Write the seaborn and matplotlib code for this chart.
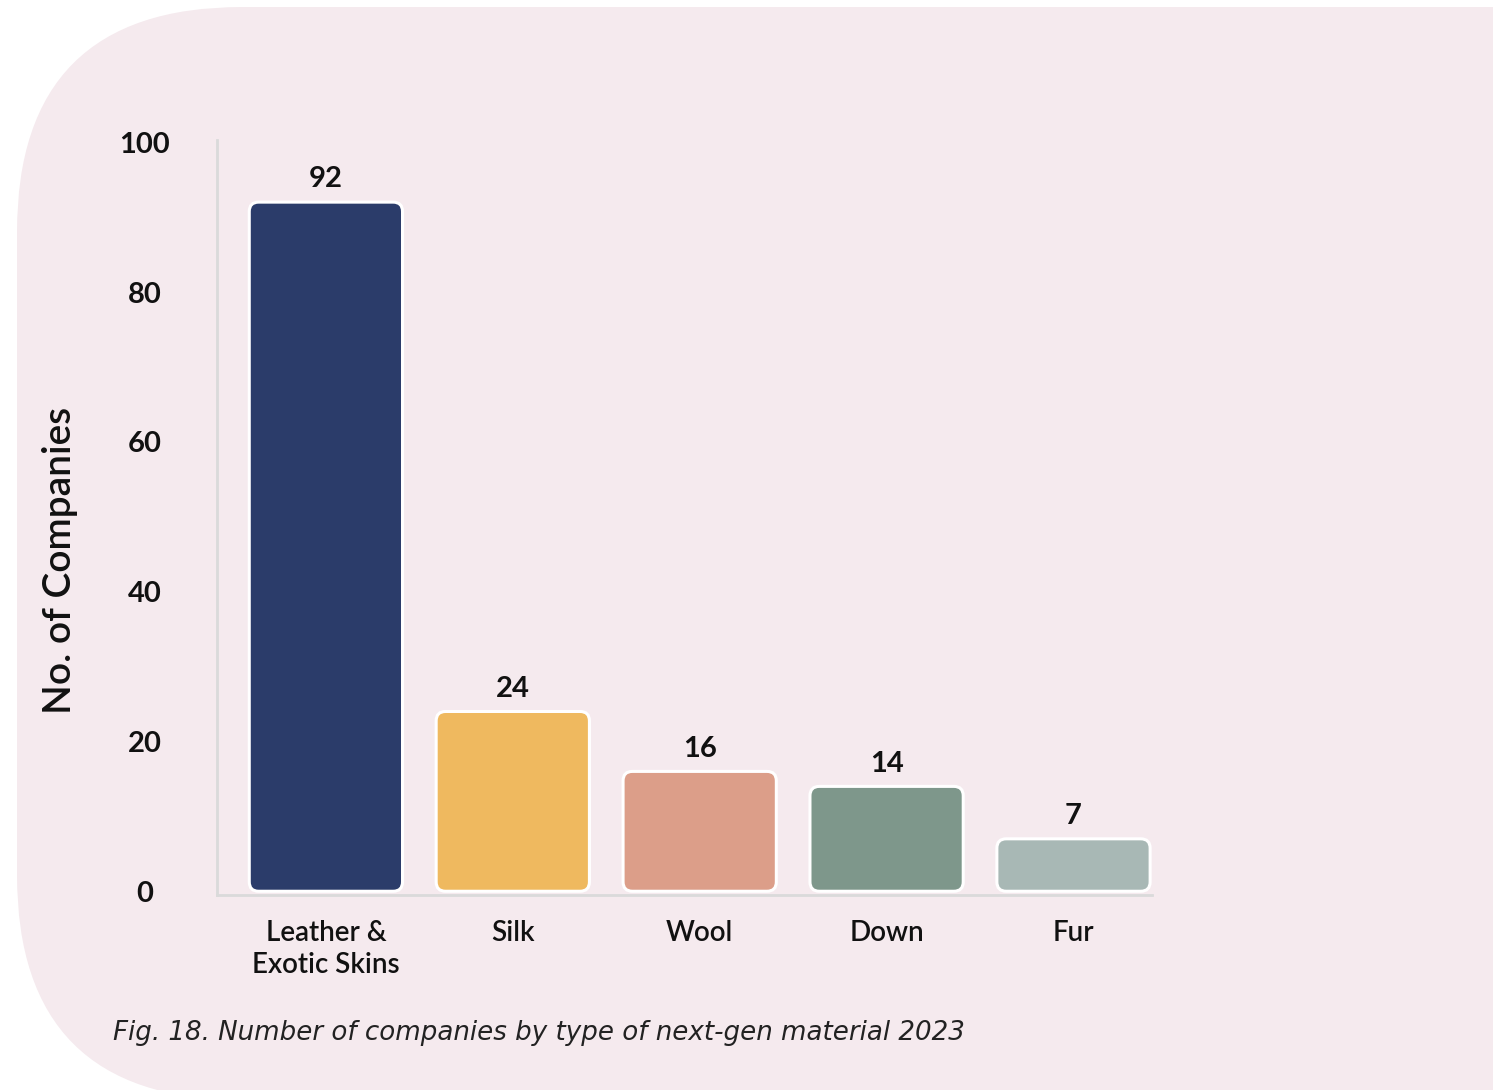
import matplotlib
matplotlib.use('Agg')
import matplotlib.pyplot as plt
import seaborn as sns
from matplotlib.patches import FancyBboxPatch
from matplotlib.transforms import IdentityTransform

# data
materials = ['Leather &\nExotic Skins', 'Silk', 'Wool', 'Down', 'Fur']
companies = [92, 24, 16, 14, 7]
bar_colors = ['#2B3C6A', '#EFB95F', '#DC9E89', '#7E978B', '#A8B8B5']
y_ticks = [0, 20, 40, 60, 80, 100]

sns.set_style('white')
plt.rcParams['font.family'] = ['Lato', 'DejaVu Sans']

fig = plt.figure(figsize=(14.93, 10.9), dpi=100, facecolor='white')

# pink background card, rounded on the left
bg = FancyBboxPatch((17, -10), 2000, 1093, boxstyle='round,pad=0,rounding_size=225',
                    transform=IdentityTransform(), facecolor='#F5EAEE', edgecolor='none', zorder=-10)
fig.patches.append(bg)

ax = fig.add_axes([0.1453, 0.1789, 0.6263, 0.6927])
ax.set_facecolor('none')

sns.barplot(x=materials, y=companies, hue=materials, palette=bar_colors,
            legend=False, width=0.82, saturation=1, ax=ax)

# swap bars for rounded ones
for p in list(ax.patches):
    x0, y0 = p.get_x(), p.get_y()
    w, h = p.get_width(), p.get_height()
    fb = FancyBboxPatch((x0, y0), w, h, boxstyle='round,pad=0,rounding_size=0.05',
                        mutation_aspect=25, facecolor=p.get_facecolor(),
                        edgecolor='white', linewidth=2.2, zorder=3)
    p.remove()
    ax.add_patch(fb)
    ax.text(x0 + w / 2, y0 + h + 1.3, str(int(round(h))), ha='center', va='bottom',
            fontsize=21, fontweight='bold', color='#111111')

ax.set_xlim(-0.583, 4.42)
ax.set_ylim(-0.5, 100.3)
ax.set_yticks(y_ticks)
ax.set_yticklabels([str(t) for t in y_ticks], fontsize=21, fontweight='bold', color='#111111', ha='center')
ax.tick_params(axis='y', length=0, pad=52)
ax.tick_params(axis='x', length=0, pad=18)
for lab in ax.get_xticklabels():
    lab.set_fontsize(20)
    lab.set_color('#111111')
    lab.set_fontweight('semibold')
    lab.set_linespacing(1.3)
ax.set_xlabel('')
ax.set_ylabel('')

sns.despine(ax=ax)
for s in ['left', 'bottom']:
    ax.spines[s].set_color('#DADADA')
    ax.spines[s].set_linewidth(2)

fig.text(60 / 1493, 1 - 560 / 1090, 'No. of Companies', rotation=90, ha='center', va='center',
         fontsize=28, fontweight='semibold', color='#111111')

fig.text(113 / 1493, 1 - 1033 / 1090, 'Fig. 18. Number of companies by type of next-gen material 2023',
         ha='left', va='center', fontsize=18.8, style='italic', color='#222222',
         family=['DejaVu Sans'])

fig.savefig('out.png', dpi=100)
